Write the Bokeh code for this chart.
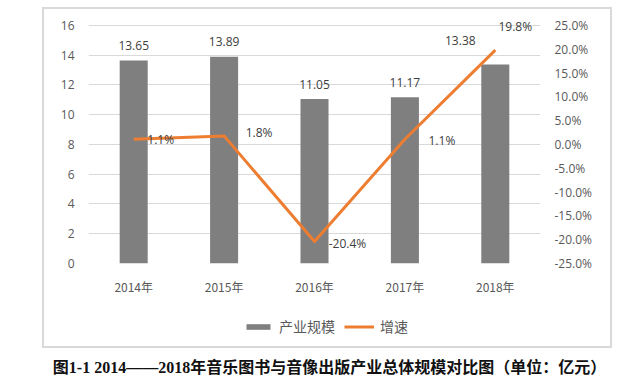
from bokeh.plotting import figure
from bokeh.layouts import column, row
from bokeh.models import (Range1d, FactorRange, LinearAxis, SingleIntervalTicker,
                          PrintfTickFormatter, ColumnDataSource, Legend, LegendItem,
                          Label, Spacer)
from bokeh.core.properties import value
from bokeh.embed import file_html
from bokeh.resources import INLINE

years = ["2014年", "2015年", "2016年", "2017年", "2018年"]
scale = [13.65, 13.89, 11.05, 11.17, 13.38]
growth = [1.1, 1.8, -20.4, 1.1, 19.8]
scale_labels = ["13.65", "13.89", "11.05", "11.17", "13.38"]
growth_labels = ["1.1%", "1.8%", "-20.4%", "1.1%", "19.8%"]
series_names = ["产业规模", "增速"]
caption = "图1-1 2014——2018年音乐图书与音像出版产业总体规模对比图（单位：亿元）"

TICK = "#595959"
LAB = "#404040"
GRID = "#d9d9d9"
BAR = "#7f7f7f"
ORANGE = "#ed7d31"
FONT = "Open Sans"
CJK = "Noto Sans CJK SC"
SERIF = "Liberation Serif, Noto Sans CJK SC"
NAN = float("nan")


def clean(fig):
    fig.outline_line_color = None
    fig.background_fill_alpha = 0
    fig.border_fill_alpha = 0


# left axis 0..16 and right axis -25..25 share the same gridded span; a little headroom on top
p = figure(width=570, height=298, x_range=FactorRange(*years), y_range=Range1d(0, 16.8),
           output_backend="svg", toolbar_location=None,
           min_border_left=46, min_border_right=72, min_border_top=6, min_border_bottom=42)
p.extra_y_ranges = {"g": Range1d(-25, 27.5)}
clean(p)

p.yaxis.ticker = SingleIntervalTicker(interval=2)
r_ax = LinearAxis(y_range_name="g", ticker=SingleIntervalTicker(interval=5),
                  formatter=PrintfTickFormatter(format="%.1f%%"))
p.add_layout(r_ax, "right")
for ax in [p.xaxis[0], p.yaxis[0], r_ax]:
    ax.axis_line_color = None
    ax.major_tick_line_color = None
    ax.minor_tick_line_color = None
    ax.major_tick_out = 0
    ax.major_tick_in = 0
    ax.minor_tick_out = 0
    ax.major_label_text_color = TICK
    ax.major_label_text_font = FONT
    ax.major_label_text_font_size = "12px"
    ax.major_label_standoff = 14
p.xaxis.major_label_text_font = CJK

p.xgrid.grid_line_color = None
p.ygrid.grid_line_color = GRID
p.ygrid.grid_line_width = 1

src = ColumnDataSource(dict(x=years, s=scale, g=growth, sl=scale_labels, gl=growth_labels,
                            sdx=[0, 0, 0, 0, -35], sdy=[-15, -15, -15, -15, -24],
                            gdx=[27, 35, 33, 37, 20], gdy=[0, -3, 2, 1, -24]))

p.vbar(x="x", top="s", width=0.31, source=src, fill_color=BAR, line_color=None)
p.line(x="x", y="g", source=src, y_range_name="g", line_color=ORANGE,
       line_width=3, line_join="round")

p.text(x="x", y="s", text="sl", source=src, x_offset="sdx", y_offset="sdy",
       text_align="center", text_baseline="middle", text_color=LAB,
       text_font=value(FONT), text_font_size="12px")
p.text(x="x", y="g", text="gl", source=src, y_range_name="g", x_offset="gdx", y_offset="gdy",
       text_align="center", text_baseline="middle", text_color=LAB,
       text_font=value(FONT), text_font_size="12px")

# legend strip (inside the bordered box); NaN rows give the legend its swatches, draw nothing
leg_fig = figure(width=570, height=43, x_range=Range1d(0, 1), y_range=Range1d(0, 1),
                 output_backend="svg", toolbar_location=None, min_border=0,
                 x_axis_location=None, y_axis_location=None)
leg_fig.grid.visible = False
clean(leg_fig)
lb = leg_fig.vbar(x=[NAN], top=[NAN], width=0.3, fill_color=BAR, line_color=None)
ll = leg_fig.line(x=[NAN], y=[NAN], line_color=ORANGE, line_width=3)
legend = Legend(items=[LegendItem(label=series_names[0], renderers=[lb]),
                       LegendItem(label=series_names[1], renderers=[ll])],
                orientation="horizontal", location=(155, 12),
                glyph_width=30, glyph_height=7, label_height=14, label_standoff=6,
                spacing=9, padding=0, margin=0, border_line_color=None,
                background_fill_alpha=0, label_text_color=TICK,
                label_text_font=SERIF, label_text_font_size="14px")
leg_fig.add_layout(legend, "center")

box = column(p, leg_fig, spacing=0,
             styles={"box-shadow": "inset 0 0 0 2px #d9d9d9"})

cap_fig = figure(width=640, height=44, x_range=Range1d(0, 640), y_range=Range1d(0, 44),
                 output_backend="svg", toolbar_location=None, min_border=0,
                 x_axis_location=None, y_axis_location=None)
cap_fig.grid.visible = False
clean(cap_fig)
cap = Label(x=329, y=25, text=caption, text_align="center", text_baseline="middle",
            text_color="#111111", text_font=SERIF, text_font_size="16px",
            text_font_style="bold")
cap_fig.add_layout(cap)

layout = column(Spacer(height=7), row(Spacer(width=42), box, spacing=0), cap_fig, spacing=0)

open("out.html", "w").write(file_html(layout, INLINE))
